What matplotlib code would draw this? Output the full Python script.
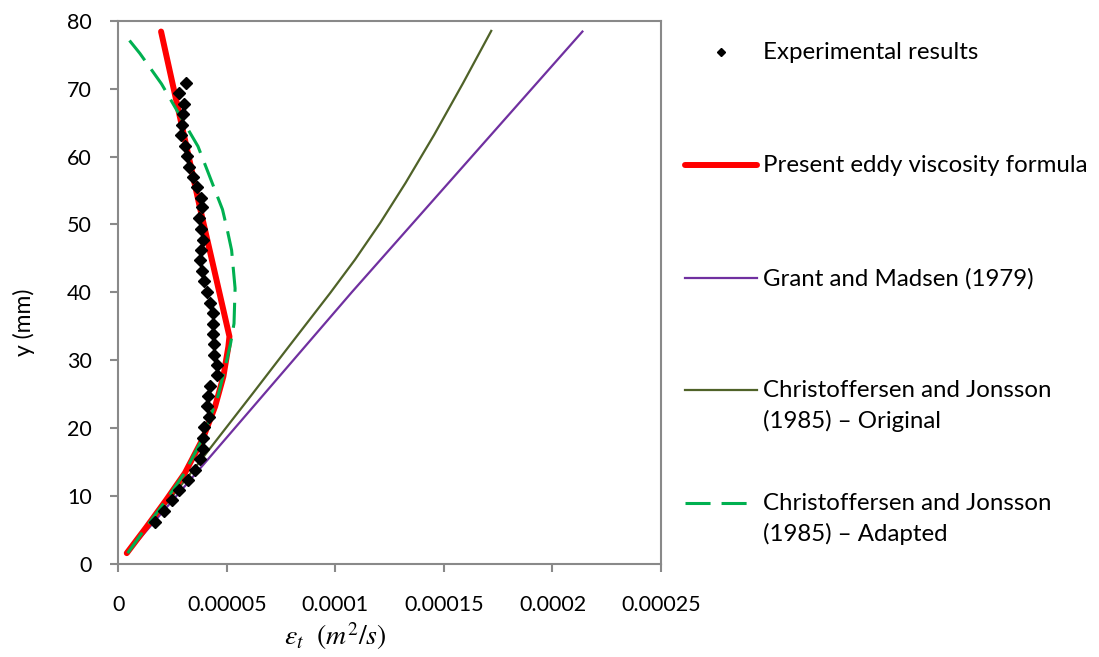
import matplotlib
matplotlib.use("Agg")
import matplotlib.pyplot as plt
import numpy as np

plt.rcParams['font.family'] = ['Lato', 'DejaVu Sans']
plt.rcParams['mathtext.fontset'] = 'stix'

# ---- data (x in 1e-5 m^2/s, y in mm) ----
exp_y = [70.8, 69.3, 67.7, 66.2, 64.7, 63.1, 61.6, 60.1, 58.5, 57.0, 55.5, 53.9, 52.5,
         50.9, 49.3, 47.7, 46.2, 44.7, 43.1, 41.6, 40.0, 38.5, 37.0, 35.4, 33.9, 32.4,
         30.8, 29.3, 27.8, 26.2, 24.8, 23.2, 21.6, 20.1, 18.5, 17.0, 15.4, 13.9, 12.4,
         10.9, 9.4, 7.8, 6.2]
exp_x = [3.10, 2.80, 3.03, 2.98, 2.92, 2.89, 3.09, 3.16, 3.27, 3.44, 3.64, 3.81, 3.87,
         3.71, 3.79, 3.91, 3.79, 3.75, 3.84, 3.97, 4.08, 4.22, 4.36, 4.36, 4.37, 4.39,
         4.39, 4.53, 4.53, 4.22, 4.14, 4.10, 4.16, 3.94, 3.90, 3.90, 3.78, 3.55, 3.20,
         2.80, 2.46, 2.11, 1.68]

present_y = [1.6, 5.5, 9.4, 13.4, 18.5, 23.2, 27.6, 32.0, 33.5, 52.2, 78.4]
present_x = [0.39, 1.31, 2.20, 3.07, 3.90, 4.46, 4.84, 5.07, 5.12, 3.78, 1.97]

gm_y = [1.6, 40.0, 78.4]
gm_x = [0.41, 10.75, 21.38]

cj_orig_y = [1.6, 15.1, 25.1, 32.0, 39.9, 44.8, 50.2, 56.1, 63.2, 70.8, 78.5]
cj_orig_x = [0.41, 3.76, 6.19, 7.85, 9.76, 10.90, 12.06, 13.23, 14.55, 15.88, 17.18]

cj_adapt_y = [1.6, 5.5, 9.4, 13.4, 18.5, 24.8, 28.7, 32.6, 35.4, 40.6, 46.2, 49.2,
              52.2, 61.5, 66.9, 70.7, 75.2, 77.9]
cj_adapt_x = [0.43, 1.30, 2.20, 3.05, 3.88, 4.60, 4.90, 5.18, 5.33, 5.38, 5.22, 5.02,
              4.80, 3.67, 2.68, 1.99, 0.99, 0.31]

xticks = [0, 0.00005, 0.0001, 0.00015, 0.0002, 0.00025]
xtick_labels = ['0', '0.00005', '0.0001', '0.00015', '0.0002', '0.00025']
yticks = [0, 10, 20, 30, 40, 50, 60, 70, 80]

labels = ['Experimental results', 'Present eddy viscosity formula', 'Grant and Madsen (1979)',
          'Christoffersen and Jonsson\n(1985) \u2013 Original',
          'Christoffersen and Jonsson\n(1985) \u2013 Adapted']

sc = 1e-5
W, H = 1099, 657
fig = plt.figure(figsize=(W / 100, H / 100), dpi=100)
L, R, T, B = 118.3, 661.0, 20.7, 564.0
ax = fig.add_axes([L / W, 1 - B / H, (R - L) / W, (B - T) / H])

red = '#FF0000'
purple = '#7030A0'
olive = '#4F6228'
green = '#00B050'

ax.plot(np.array(gm_x) * sc, gm_y, color=purple, lw=1.6, zorder=2)
ax.plot(np.array(cj_orig_x) * sc, cj_orig_y, color=olive, lw=1.6, zorder=2,
        solid_joinstyle='round')
ax.plot(np.array(present_x) * sc, present_y, color=red, lw=4.3, zorder=3,
        solid_capstyle='round', solid_joinstyle='round')
ax.plot(np.array(cj_adapt_x) * sc, cj_adapt_y, color=green, lw=2.2, zorder=4,
        dashes=(8.2, 3.6))
ax.plot(np.array(exp_x) * sc, exp_y, linestyle='none', marker='D', color='black',
        markersize=6.3, zorder=5)

ax.set_xlim(0, 0.00025)
ax.set_ylim(0, 80)
ax.set_xticks(xticks)
ax.set_xticklabels(xtick_labels)
ax.set_yticks(yticks)
for s in ax.spines.values():
    s.set_color('#898989')
    s.set_linewidth(1.5)
ax.tick_params(axis='both', colors='#898989', length=6, width=1.5, labelcolor='black',
               labelsize=15.5)
ax.tick_params(axis='x', pad=16)
ax.tick_params(axis='y', pad=13)

# overlay in pixel coordinates for axis titles and legend
lg = fig.add_axes([0, 0, 1, 1])
lg.set_xlim(0, W)
lg.set_ylim(H, 0)
lg.axis('off')

lg.text(335, 636, r'$\varepsilon_t\ \ (m^2/s)$', fontsize=20, ha='center', va='center')
lg.text(24, 322, 'y (mm)', fontsize=16.5, rotation=90, ha='center', va='center')

ys = [52, 165, 278, 390, 503]
lx0, lx1, tx = 685, 757, 763
lg.plot([721], [ys[0]], marker='D', color='black', markersize=4.5, linestyle='none')
lg.plot([lx0, lx1], [ys[1], ys[1]], color=red, lw=4.3, solid_capstyle='round')
lg.plot([lx0, lx1], [ys[2], ys[2]], color=purple, lw=1.6)
lg.plot([lx0, lx1], [ys[3], ys[3]], color=olive, lw=1.6)
lg.plot([lx0, lx1 - 3], [ys[4], ys[4]], color=green, lw=2.2, dashes=(8.2, 3.6))
for y, lab in zip(ys, labels):
    lg.text(tx, y - 10, lab, fontsize=17.3, va='top', ha='left', linespacing=1.5)

fig.savefig('out.png', dpi=100)
